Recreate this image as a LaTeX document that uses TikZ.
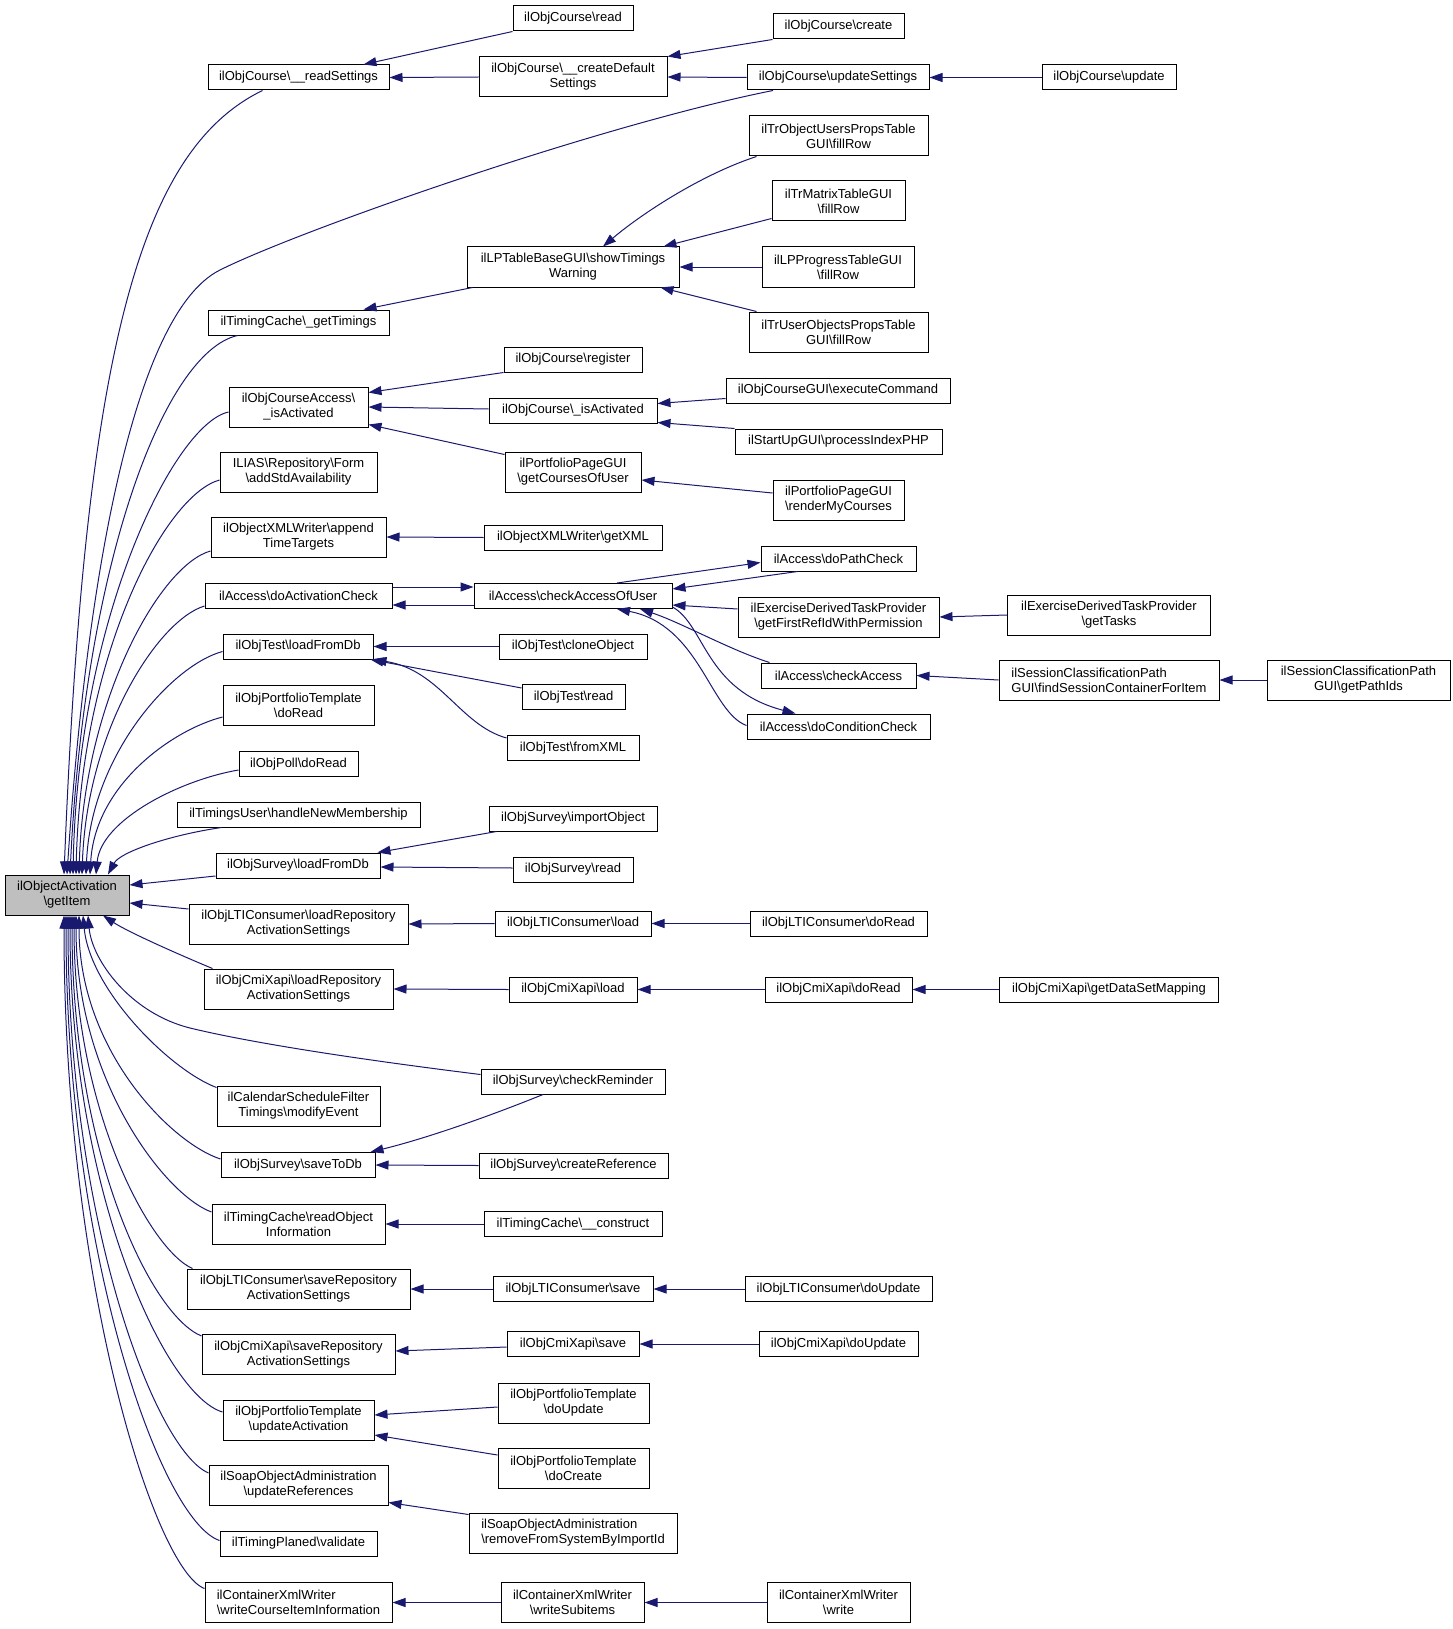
\documentclass[tikz,border=0pt]{standalone}
\usepackage{fontspec}
\setmainfont{Liberation Sans}
\usepackage{tikz}
\usetikzlibrary{arrows.meta,calc,positioning}
\definecolor{edgeblue}{HTML}{191970}
\definecolor{rootgrey}{HTML}{BFBFBF}
\newcommand{\bks}{\textbackslash}
\tikzstyle{fn} = [rectangle, draw=black, fill=white, line width=1pt, inner sep=0pt, minimum height=25pt, align=center, font=\fontsize{13}{15}\selectfont]
\tikzstyle{fntwo} = [fn, minimum height=40pt]
\tikzstyle{fnleft} = [fntwo, align=left]
\tikzstyle{rootfn} = [fntwo, fill=rootgrey]
\tikzstyle{call} = [draw=edgeblue, line width=1pt, -{Triangle[length=13pt,width=9pt]}]

\begin{document}
\begin{tikzpicture}[x=1pt,y=-1pt]
\useasboundingbox (0,0) rectangle (1452,1629);
% called function
\node (GetItem) [rootfn, minimum width=124pt] at (67,895) {ilObjectActivation\\\bks getItem};

% direct callers
\node (ReadSettings) [fn, minimum width=181pt] at (298.5,77.5) {ilObjCourse\bks\_\_readSettings};
\node (GetTimings) [fn, minimum width=181pt] at (298.5,322.5) {ilTimingCache\bks\_getTimings};
\node (AccessIsActivated) [fntwo, minimum width=139pt] at (298.5,407) {ilObjCourseAccess\bks\\\_isActivated};
\node (AddStdAvailability) [fntwo, minimum width=157pt] at (298.5,472) {ILIAS\bks Repository\bks Form\\\bks addStdAvailability};
\node (AppendTimeTargets) [fntwo, minimum width=175pt] at (298.5,537) {ilObjectXMLWriter\bks append\\TimeTargets};
\node (DoActivationCheck) [fn, minimum width=187pt] at (298.5,596) {ilAccess\bks doActivationCheck};
\node (TestLoadFromDb) [fn, minimum width=150pt] at (298,646.5) {ilObjTest\bks loadFromDb};
\node (TemplateDoRead) [fntwo, minimum width=151pt] at (298.5,705) {ilObjPortfolioTemplate\\\bks doRead};
\node (PollDoRead) [fn, minimum width=119pt] at (298.5,764) {ilObjPoll\bks doRead};
\node (HandleNewMembership) [fn, minimum width=243pt] at (298.5,814.5) {ilTimingsUser\bks handleNewMembership};
\node (SurveyLoadFromDb) [fn, minimum width=164pt] at (298,865.5) {ilObjSurvey\bks loadFromDb};
\node (LtiLoadSettings) [fntwo, minimum width=219pt] at (298.5,924) {ilObjLTIConsumer\bks loadRepository\\ActivationSettings};
\node (CmiLoadSettings) [fntwo, minimum width=189pt] at (298.5,989) {ilObjCmiXapi\bks loadRepository\\ActivationSettings};
\node (ModifyEvent) [fntwo, minimum width=163pt] at (298.5,1106) {ilCalendarScheduleFilter\\Timings\bks modifyEvent};
\node (SaveToDb) [fn, minimum width=154pt] at (298,1165) {ilObjSurvey\bks saveToDb};
\node (ReadObjectInfo) [fntwo, minimum width=173pt] at (298.5,1224) {ilTimingCache\bks readObject\\Information};
\node (LtiSaveSettings) [fntwo, minimum width=223pt] at (298.5,1289) {ilObjLTIConsumer\bks saveRepository\\ActivationSettings};
\node (CmiSaveSettings) [fntwo, minimum width=193pt] at (298.5,1354.5) {ilObjCmiXapi\bks saveRepository\\ActivationSettings};
\node (UpdateActivation) [fntwo, minimum width=151pt] at (298.5,1420) {ilObjPortfolioTemplate\\\bks updateActivation};
\node (UpdateReferences) [fntwo, minimum width=179pt] at (298.5,1485) {ilSoapObjectAdministration\\\bks updateReferences};
\node (TimingValidate) [fn, minimum width=157pt] at (298.5,1543.5) {ilTimingPlaned\bks validate};
\node (WriteCourseItem) [fnleft, minimum width=187pt] at (298.5,1602.5) {ilContainerXmlWriter\\\bks writeCourseItemInformation};

% second column
\node (CourseRead) [fn, minimum width=120pt] at (573,18.5) {ilObjCourse\bks read};
\node (CreateDefault) [fntwo, minimum width=188pt] at (573,77) {ilObjCourse\bks\_\_createDefault\\Settings};
\node (ShowTimingsWarning) [fntwo, minimum width=212pt] at (573,267) {ilLPTableBaseGUI\bks showTimings\\Warning};
\node (CourseRegister) [fn, minimum width=138pt] at (573,359.5) {ilObjCourse\bks register};
\node (CourseIsActivated) [fn, minimum width=168pt] at (573,410.5) {ilObjCourse\bks\_isActivated};
\node (GetCoursesOfUser) [fntwo, minimum width=136pt] at (573,472) {ilPortfolioPageGUI\\\bks getCoursesOfUser};
\node (GetXML) [fn, minimum width=178pt] at (573,537.5) {ilObjectXMLWriter\bks getXML};
\node (CheckAccessOfUser) [fn, minimum width=198pt] at (573,596) {ilAccess\bks checkAccessOfUser};
\node (CloneObject) [fn, minimum width=148pt] at (573,646.5) {ilObjTest\bks cloneObject};
\node (TestRead) [fn, minimum width=103pt] at (573.5,697) {ilObjTest\bks read};
\node (FromXML) [fn, minimum width=132pt] at (573,748) {ilObjTest\bks fromXML};
\node (ImportObject) [fn, minimum width=168pt] at (573,818.5) {ilObjSurvey\bks importObject};
\node (SurveyRead) [fn, minimum width=120pt] at (573,869.5) {ilObjSurvey\bks read};
\node (LtiLoad) [fn, minimum width=156pt] at (573,923.5) {ilObjLTIConsumer\bks load};
\node (CmiLoad) [fn, minimum width=128pt] at (573,989.5) {ilObjCmiXapi\bks load};
\node (CheckReminder) [fn, minimum width=184pt] at (573,1081.5) {ilObjSurvey\bks checkReminder};
\node (CreateReference) [fn, minimum width=189pt] at (573.5,1165.5) {ilObjSurvey\bks createReference};
\node (TimingConstruct) [fn, minimum width=178pt] at (573,1224) {ilTimingCache\bks\_\_construct};
\node (LtiSave) [fn, minimum width=160pt] at (573,1289) {ilObjLTIConsumer\bks save};
\node (CmiSave) [fn, minimum width=132pt] at (573,1344) {ilObjCmiXapi\bks save};
\node (TemplateDoUpdate) [fntwo, minimum width=151pt] at (573.5,1403) {ilObjPortfolioTemplate\\\bks doUpdate};
\node (TemplateDoCreate) [fntwo, minimum width=151pt] at (573.5,1468) {ilObjPortfolioTemplate\\\bks doCreate};
\node (RemoveFromSystem) [fnleft, minimum width=208pt] at (573,1533) {ilSoapObjectAdministration\\\bks removeFromSystemByImportId};
\node (WriteSubitems) [fntwo, minimum width=143pt] at (572.5,1602.5) {ilContainerXmlWriter\\\bks writeSubitems};

% third column
\node (CourseCreate) [fn, minimum width=131pt] at (838.5,26.5) {ilObjCourse\bks create};
\node (UpdateSettings) [fn, minimum width=182pt] at (838,77.5) {ilObjCourse\bks updateSettings};
\node (ObjectUsersFillRow) [fntwo, minimum width=179pt] at (838.5,136) {ilTrObjectUsersPropsTable\\GUI\bks fillRow};
\node (MatrixFillRow) [fntwo, minimum width=133pt] at (838.5,201) {ilTrMatrixTableGUI\\\bks fillRow};
\node (ProgressFillRow) [fntwo, minimum width=152pt] at (838,267) {ilLPProgressTableGUI\\\bks fillRow};
\node (UserObjectsFillRow) [fntwo, minimum width=179pt] at (838.5,332) {ilTrUserObjectsPropsTable\\GUI\bks fillRow};
\node (ExecuteCommand) [fn, minimum width=224pt] at (838,390.5) {ilObjCourseGUI\bks executeCommand};
\node (ProcessIndex) [fn, minimum width=207pt] at (838.5,441.5) {ilStartUpGUI\bks processIndexPHP};
\node (RenderMyCourses) [fntwo, minimum width=131pt] at (838.5,500) {ilPortfolioPageGUI\\\bks renderMyCourses};
\node (DoPathCheck) [fn, minimum width=155pt] at (838.5,558.5) {ilAccess\bks doPathCheck};
\node (GetFirstRefId) [fntwo, minimum width=201pt] at (838.5,617) {ilExerciseDerivedTaskProvider\\\bks getFirstRefIdWithPermission};
\node (CheckAccess) [fn, minimum width=155pt] at (838.5,675.5) {ilAccess\bks checkAccess};
\node (DoConditionCheck) [fn, minimum width=183pt] at (838.5,726.5) {ilAccess\bks doConditionCheck};
\node (LtiDoRead) [fn, minimum width=177pt] at (838.5,923.5) {ilObjLTIConsumer\bks doRead};
\node (CmiDoRead) [fn, minimum width=147pt] at (838.5,989.5) {ilObjCmiXapi\bks doRead};
\node (LtiDoUpdate) [fn, minimum width=187pt] at (838.5,1289) {ilObjLTIConsumer\bks doUpdate};
\node (CmiDoUpdate) [fn, minimum width=159pt] at (838.5,1344) {ilObjCmiXapi\bks doUpdate};
\node (ContainerWrite) [fntwo, minimum width=143pt] at (838.5,1602.5) {ilContainerXmlWriter\\\bks write};

% outer columns
\node (CourseUpdate) [fn, minimum width=134pt] at (1109,77.5) {ilObjCourse\bks update};
\node (GetTasks) [fntwo, minimum width=203pt] at (1109,615) {ilExerciseDerivedTaskProvider\\\bks getTasks};
\node (FindSessionContainer) [fnleft, minimum width=220pt] at (1109,680) {ilSessionClassificationPath\\GUI\bks findSessionContainerForItem};
\node (GetDataSetMapping) [fn, minimum width=219pt] at (1109,989.5) {ilObjCmiXapi\bks getDataSetMapping};
\node (GetPathIds) [fntwo, minimum width=183pt] at (1358.5,680) {ilSessionClassificationPath\\GUI\bks getPathIds};

% calls into getItem
\draw[call] ($(ReadSettings.south)+(-36,0)$) .. controls (140,150) and (85,350) .. ($(GetItem.north)+(-3,0)$);
\draw[call] ($(UpdateSettings.south)+(-65,0)$) .. controls (600,125) and (300,230) .. (220,270) .. controls (130,315) and (85,600) .. (GetItem.north);
\draw[call] ($(GetTimings.south)+(-61,0)$) .. controls (165,352) and (85,560) .. ($(GetItem.north)+(3,0)$);
\draw[call] ($(AccessIsActivated.west)+(0,5)$) .. controls (174,424) and (78,618) .. ($(GetItem.north)+(6,0)$);
\draw[call] ($(AddStdAvailability.west)+(0,8)$) .. controls (165,495) and (81,653) .. ($(GetItem.north)+(9,0)$);
\draw[call] ($(AppendTimeTargets.west)+(0,14)$) .. controls (160,565) and (84,700) .. ($(GetItem.north)+(12,0)$);
\draw[call] ($(DoActivationCheck.west)+(0,10)$) .. controls (158,620) and (87,730) .. ($(GetItem.north)+(15,0)$);
\draw[call] ($(TestLoadFromDb.west)+(0,5)$) .. controls (172,665) and (91,755) .. ($(GetItem.north)+(19,0)$);
\draw[call] ($(TemplateDoRead.west)+(0,12)$) .. controls (172,730) and (95,785) .. ($(GetItem.north)+(23,0)$);
\draw[call] ($(PollDoRead.west)+(0,6)$) .. controls (180,780) and (101,820) .. ($(GetItem.north)+(29,0)$);
\draw[call] ($(HandleNewMembership.south west)+(45,0)$) .. controls (170,835) and (120,852) .. ($(GetItem.north)+(41,0)$);
\draw[call] ($(SurveyLoadFromDb.west)+(0,10.5)$) -- ($(GetItem.east)+(0,-10)$);
\draw[call] ($(LtiLoadSettings.west)+(0,-15)$) -- ($(GetItem.east)+(0,8)$);
\draw[call] ($(CmiLoadSettings.north west)+(9,0)$) .. controls (180,955) and (128,932) .. ($(GetItem.south)+(36,0)$);
\draw[call] ($(CheckReminder.west)+(0,-7)$) .. controls (380,1062) and (260,1045) .. (190,1028) .. controls (130,1013) and (92,960) .. ($(GetItem.south)+(21,0)$);
\draw[call] ($(ModifyEvent.north west)+(0,2)$) .. controls (170,1070) and (90,990) .. ($(GetItem.south)+(16,0)$);
\draw[call] ($(SaveToDb.west)+(0,-6)$) .. controls (171,1143) and (79,1050) .. ($(GetItem.south)+(12,0)$);
\draw[call] ($(ReadObjectInfo.west)+(0,-12)$) .. controls (165,1195) and (76,1080) .. ($(GetItem.south)+(9,0)$);
\draw[call] ($(LtiSaveSettings.north west)+(6,0)$) .. controls (150,1250) and (74,1110) .. ($(GetItem.south)+(7,0)$);
\draw[call] ($(CmiSaveSettings.north west)+(0,2)$) .. controls (150,1315) and (72,1150) .. ($(GetItem.south)+(5,0)$);
\draw[call] ($(UpdateActivation.west)+(0,-8)$) .. controls (165,1395) and (70,1190) .. ($(GetItem.south)+(3,0)$);
\draw[call] ($(UpdateReferences.west)+(0,-12)$) .. controls (155,1450) and (68,1220) .. ($(GetItem.south)+(1,0)$);
\draw[call] ($(TimingValidate.west)+(0,-3)$) .. controls (160,1520) and (66,1250) .. ($(GetItem.south)+(-1,0)$);
\draw[call] ($(WriteCourseItem.west)+(0,-14)$) .. controls (155,1570) and (64,1285) .. ($(GetItem.south)+(-3,0)$);

% further callers
\draw[call] (CourseRead.south west) -- ($(ReadSettings.north east)+(-26,0)$);
\draw[call] (CreateDefault.west) -- (ReadSettings.east);
\draw[call] (CourseCreate.south west) -- (CreateDefault.north east);
\draw[call] (UpdateSettings.west) -- (CreateDefault.east);
\draw[call] (CourseUpdate.west) -- (UpdateSettings.east);
\draw[call] ($(ShowTimingsWarning.south west)+(6,0)$) -- ($(GetTimings.north east)+(-26,0)$);
\draw[call] ($(ObjectUsersFillRow.south west)+(8,0)$) .. controls (700,175) and (640,215) .. ($(ShowTimingsWarning.north)+(30,0)$);
\draw[call] ($(MatrixFillRow.south west)+(0,-3)$) -- ($(ShowTimingsWarning.north east)+(-16,0)$);
\draw[call] (ProgressFillRow.west) -- (ShowTimingsWarning.east);
\draw[call] ($(UserObjectsFillRow.north west)+(8,0)$) -- ($(ShowTimingsWarning.south east)+(-19,0)$);
\draw[call] (CourseRegister.south west) -- ($(AccessIsActivated.north east)+(0,6)$);
\draw[call] ($(CourseIsActivated.west)+(0,-1.5)$) -- (AccessIsActivated.east);
\draw[call] ($(GetCoursesOfUser.north west)+(0,3)$) -- ($(AccessIsActivated.south east)+(0,-3)$);
\draw[call] ($(ExecuteCommand.west)+(0,8)$) -- ($(CourseIsActivated.east)+(0,-7)$);
\draw[call] (ProcessIndex.north west) -- ($(CourseIsActivated.south east)+(0,-1)$);
\draw[call] ($(RenderMyCourses.west)+(0,-7)$) -- ($(GetCoursesOfUser.east)+(0,8)$);
\draw[call] (GetXML.west) -- (AppendTimeTargets.east);
\draw[call] ($(DoActivationCheck.east)+(0,-9)$) -- ($(CheckAccessOfUser.west)+(0,-9)$);
\draw[call] ($(CheckAccessOfUser.west)+(0,9)$) -- ($(DoActivationCheck.east)+(0,9)$);
\draw[call] ($(CheckAccessOfUser.north)+(44,0)$) -- ($(DoPathCheck.west)+(0,4)$);
\draw[call] ($(DoPathCheck.south)+(-41,0)$) -- ($(CheckAccessOfUser.east)+(0,-7)$);
\draw[call] ($(GetFirstRefId.west)+(0,-8)$) -- ($(CheckAccessOfUser.east)+(0,9)$);
\draw[call] (GetTasks.west) -- (GetFirstRefId.east);
\draw[call] ($(CheckAccess.north west)+(9,0)$) .. controls (730,650) and (680,622) .. ($(CheckAccessOfUser.south)+(67,0)$);
\draw[call] (FindSessionContainer.west) -- (CheckAccess.east);
\draw[call] (GetPathIds.west) -- (FindSessionContainer.east);
\draw[call] ($(CheckAccessOfUser.east)+(0,11)$) .. controls (705,625) and (705,690) .. ($(DoConditionCheck.north)+(-43,0)$);
\draw[call] ($(DoConditionCheck.west)+(0,-1)$) .. controls (710,712) and (700,625) .. ($(CheckAccessOfUser.south)+(44,0)$);
\draw[call] (CloneObject.west) -- (TestLoadFromDb.east);
\draw[call] ($(TestRead.west)+(0,-9)$) -- ($(TestLoadFromDb.south east)+(-3,0)$);
\draw[call] ($(FromXML.west)+(0,-10)$) .. controls (460,725) and (440,670) .. (TestLoadFromDb.south east);
\draw[call] ($(ImportObject.south west)+(8,0)$) -- ($(SurveyLoadFromDb.north east)+(-3,0)$);
\draw[call] ($(SurveyRead.west)+(0,-1.5)$) -- ($(SurveyLoadFromDb.east)+(0,1.5)$);
\draw[call] (LtiLoad.west) -- (LtiLoadSettings.east);
\draw[call] (LtiDoRead.west) -- (LtiLoad.east);
\draw[call] (CmiLoad.west) -- (CmiLoadSettings.east);
\draw[call] (CmiDoRead.west) -- (CmiLoad.east);
\draw[call] (GetDataSetMapping.west) -- (CmiDoRead.east);
\draw[call] ($(CheckReminder.south)+(-30,0)$) .. controls (480,1120) and (420,1140) .. ($(SaveToDb.north east)+(-5,0)$);
\draw[call] (CreateReference.west) -- (SaveToDb.east);
\draw[call] (TimingConstruct.west) -- (ReadObjectInfo.east);
\draw[call] (LtiSave.west) -- (LtiSaveSettings.east);
\draw[call] (LtiDoUpdate.west) -- (LtiSave.east);
\draw[call] ($(CmiSave.west)+(0,3)$) -- ($(CmiSaveSettings.east)+(0,-3.5)$);
\draw[call] (CmiDoUpdate.west) -- (CmiSave.east);
\draw[call] ($(TemplateDoUpdate.west)+(0,4)$) -- ($(UpdateActivation.east)+(0,-5)$);
\draw[call] ($(TemplateDoCreate.west)+(0,-13)$) -- ($(UpdateActivation.east)+(0,15)$);
\draw[call] ($(RemoveFromSystem.north west)+(0,2)$) -- ($(UpdateReferences.south east)+(0,-3)$);
\draw[call] (WriteSubitems.west) -- (WriteCourseItem.east);
\draw[call] (ContainerWrite.west) -- (WriteSubitems.east);
\end{tikzpicture}
\end{document}
